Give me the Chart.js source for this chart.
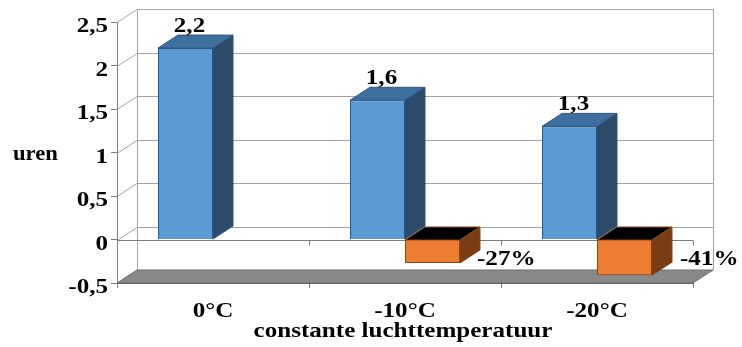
<!DOCTYPE html>
<html>
<head>
<meta charset="utf-8">
<script src="https://cdn.jsdelivr.net/npm/chart.js@4.4.1/dist/chart.umd.min.js"></script>
<style>
  html, body { margin: 0; padding: 0; background: #ffffff; }
  #wrap { width: 742px; height: 347px; }
</style>
</head>
<body>
<div id="wrap"><canvas id="c" width="742" height="347"></canvas></div>
<script>
// Gemeten duur (uren) per constante luchttemperatuur en de relatieve afname
const categories = ['0°C', '-10°C', '-20°C'];
const hours = [2.2, 1.6, 1.3];
const change = [null, -0.27, -0.41];
const yMin = -0.5;
const yMax = 2.5;
const yStep = 0.5;
const yTitle = 'uren';
const xTitle = 'constante luchttemperatuur';

// depth offset of the pseudo-3D walls and bars
const DX = 20, DY = -13;
const fontStr = 'bold 22px "Liberation Serif", "Times New Roman", serif';
const WIDE = 1.14;            // horizontal text stretch
const pctShift = [0, -1, 10]; // extra x shift of the percentage labels

const comma = v => String(v).replace('.', ',');

const faces = [
  { front: '#5b9bd5', top: '#3f6f9f', side: '#2c4b6b', edge: '#2f557c' },
  { front: '#ed7d31', top: '#000000', side: '#7a3c14', edge: '#8a4517' }
];

function poly(ctx, pts, fill, stroke) {
  ctx.beginPath();
  ctx.moveTo(pts[0][0], pts[0][1]);
  for (let i = 1; i < pts.length; i++) ctx.lineTo(pts[i][0], pts[i][1]);
  ctx.closePath();
  if (fill) { ctx.fillStyle = fill; ctx.fill(); }
  if (stroke) { ctx.strokeStyle = stroke; ctx.lineWidth = 1; ctx.stroke(); }
}
function line(ctx, x1, y1, x2, y2) {
  ctx.beginPath(); ctx.moveTo(x1, y1); ctx.lineTo(x2, y2); ctx.stroke();
}
function text(ctx, str, x, y, align, sx) {
  ctx.save();
  ctx.translate(x, y);
  ctx.scale(sx, 1);
  ctx.textAlign = align;
  ctx.fillText(str, 0, 0);
  ctx.restore();
}

const box3d = {
  id: 'box3d',
  beforeDatasetsDraw(chart) {
    const { ctx, chartArea: { left, right, top, bottom }, scales: { y } } = chart;
    ctx.save();
    ctx.lineWidth = 1;
    ctx.strokeStyle = '#a3a3a3';
    // back wall grid and side wall connectors
    y.ticks.forEach(t => {
      const py = Math.round(y.getPixelForValue(t.value)) + 0.5;
      line(ctx, left, py, left + DX, py + DY);
      line(ctx, left + DX, py + DY, right + DX, py + DY);
    });
    line(ctx, left + DX + 0.5, top + DY, left + DX + 0.5, bottom + DY);
    line(ctx, right + DX + 0.5, top + DY, right + DX + 0.5, bottom + DY);
    // floor
    poly(ctx, [[left, bottom], [right, bottom], [right + DX, bottom + DY], [left + DX, bottom + DY]], '#888888', '#6f6f6f');
    // category axis crossing at zero
    const y0 = Math.round(y.getPixelForValue(0)) + 0.5;
    ctx.strokeStyle = '#7c7c7c';
    line(ctx, left, y0, right, y0);
    const n = categories.length;
    for (let i = 0; i <= n; i++) {
      const xb = Math.round(left + i * (right - left) / n) + 0.5;
      line(ctx, xb, y0, xb, y0 + 5);
    }
    ctx.restore();
  },
  afterDatasetsDraw(chart) {
    const { ctx, chartArea, scales: { x, y } } = chart;
    ctx.save();
    chart.data.datasets.forEach((ds, di) => {
      const meta = chart.getDatasetMeta(di);
      const f = faces[di];
      meta.data.forEach((bar, i) => {
        if (ds.data[i] === null) return;
        const l = bar.x - bar.width / 2, r = bar.x + bar.width / 2;
        const tY = Math.min(bar.y, bar.base), bY = Math.max(bar.y, bar.base);
        poly(ctx, [[l, tY], [r, tY], [r + DX, tY + DY], [l + DX, tY + DY]], f.top, f.edge);
        poly(ctx, [[r, tY], [r + DX, tY + DY], [r + DX, bY + DY], [r, bY]], f.side, f.edge);
      });
    });

    ctx.font = fontStr;
    ctx.fillStyle = '#000';
    ctx.textBaseline = 'alphabetic';
    // value labels
    chart.getDatasetMeta(0).data.forEach((bar, i) => {
      text(ctx, comma(hours[i]), bar.x + 4, bar.y + DY - 3, 'center', WIDE);
    });
    const floorY = y.getPixelForValue(yMin);
    chart.getDatasetMeta(1).data.forEach((bar, i) => {
      if (change[i] === null) return;
      text(ctx, Math.round(change[i] * 100) + '%', bar.x + bar.width / 2 + DX - 2 + pctShift[i], floorY - 18, 'left', WIDE);
    });
    // value axis labels
    y.ticks.forEach(t => {
      text(ctx, comma(t.value), chartArea.left - 9, y.getPixelForValue(t.value) + 10, 'right', WIDE);
    });
    // category labels
    categories.forEach((c, i) => {
      text(ctx, c, x.getPixelForTick(i), chartArea.bottom + 34, 'center', WIDE);
    });
    // axis titles
    text(ctx, xTitle, (chartArea.left + chartArea.right) / 2 - 2, chartArea.bottom + 54, 'center', WIDE);
    text(ctx, yTitle, 13, 160, 'left', 1.03);
    ctx.restore();
  }
};

new Chart(document.getElementById('c'), {
  type: 'bar',
  data: {
    labels: categories,
    datasets: [
      { data: hours, backgroundColor: faces[0].front, borderColor: faces[0].edge, borderWidth: 1 },
      { data: change, backgroundColor: faces[1].front, borderColor: faces[1].edge, borderWidth: 1 }
    ]
  },
  options: {
    responsive: false,
    animation: false,
    devicePixelRatio: 1,
    categoryPercentage: 0.573,
    barPercentage: 1,
    layout: { padding: { left: 0, right: 49, top: 22, bottom: 0 } },
    plugins: { legend: { display: false }, tooltip: { enabled: false } },
    scales: {
      x: {
        grid: { offset: true, drawOnChartArea: false, drawTicks: true, tickLength: 5, color: '#7c7c7c' },
        border: { display: true, color: '#5a5a5a' },
        ticks: { display: false },
        afterFit(s) { s.height = 64; }
      },
      y: {
        min: yMin,
        max: yMax,
        ticks: { display: false, stepSize: yStep },
        grid: { drawOnChartArea: false, drawTicks: true, tickLength: 6, color: '#7c7c7c' },
        border: { display: true, color: '#7c7c7c' },
        afterFit(s) { s.width = 117; }
      }
    }
  },
  plugins: [box3d]
});
</script>
</body>
</html>
